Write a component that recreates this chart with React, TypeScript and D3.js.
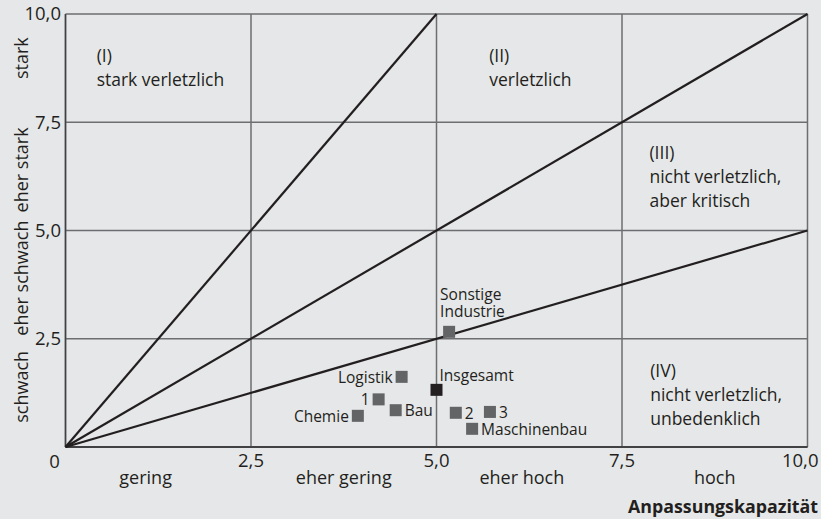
import React from "react";
import * as d3 from "d3";

// ---- data ----
const pointNames = ["Sonstige Industrie", "Logistik", "1", "Bau", "Chemie", "2", "3", "Maschinenbau", "Insgesamt"];
const pointX = [5.17, 4.53, 4.22, 4.45, 3.94, 5.26, 5.72, 5.48, 5.0];
const pointY = [2.66, 1.62, 1.1, 0.85, 0.72, 0.79, 0.81, 0.42, 1.32];
const pointLabelSide = ["top", "left", "left", "right", "left", "right", "right", "right", "topright"];
const pointIsTotal = [false, false, false, false, false, false, false, false, true];

const tickValues = [0, 2.5, 5, 7.5, 10];
const tickLabels = ["0", "2,5", "5,0", "7,5", "10,0"];

const xCategories = ["gering", "eher gering", "eher hoch", "hoch"];
const xCategoryPos = [1.08, 3.75, 6.15, 8.75];
const yCategories = ["stark", "eher stark", "eher schwach", "schwach"];
const yCategoryPos = [8.98, 6.4, 3.9, 1.39];

// rays from origin dividing the zones (end points)
const rayEndX = [5, 10, 10];
const rayEndY = [10, 10, 5];

const zoneLines = [
  ["(I)", "stark verletzlich"],
  ["(II)", "verletzlich"],
  ["(III)", "nicht verletzlich,", "aber kritisch"],
  ["(IV)", "nicht verletzlich,", "unbedenklich"],
];
const zoneX = [0.42, 5.71, 7.87, 7.88];
const zoneY = [8.89, 8.89, 6.65, 1.62];

const xTitle = "Anpassungskapazität";

// ---- layout ----
const W = 821;
const H = 519;
const left = 65.5;
const right = 807.5;
const top = 14;
const bottom = 447;
const FONT = "'Open Sans', sans-serif";
const TEXT = "#231f20";
const GRID = "#6d6e71";

export default function App() {
  const x = d3.scaleLinear().domain([0, 10]).range([left, right]);
  const y = d3.scaleLinear().domain([0, 10]).range([bottom, top]);
  const line = d3.line<[number, number]>().x((d) => x(d[0])).y((d) => y(d[1]));
  const sq = 12;

  return (
    <svg
      width={W}
      height={H}
      style={{ position: "absolute", left: 0, top: 0, display: "block" }}
      fontFamily={FONT}
    >
      <rect x={0} y={0} width={W} height={H} fill="#e6e7e8" />

      {/* grid lines */}
      {tickValues.map((v, i) => (
        <line key={"gx" + i} x1={x(v)} x2={x(v)} y1={y(0)} y2={y(10)} stroke={GRID} strokeWidth={1.5} />
      ))}
      {tickValues.map((v, i) => (
        <line key={"gy" + i} x1={x(0)} x2={x(10)} y1={y(v)} y2={y(v)} stroke={GRID} strokeWidth={1.5} />
      ))}
      {/* axes */}
      <line x1={x(0)} x2={x(10)} y1={y(0)} y2={y(0)} stroke="#414042" strokeWidth={1.8} />
      <line x1={x(0)} x2={x(0)} y1={y(0)} y2={y(10)} stroke="#414042" strokeWidth={1.5} />

      {/* rays */}
      {rayEndX.map((ex, i) => (
        <path
          key={"ray" + i}
          d={line([[0, 0], [ex, rayEndY[i]]]) || ""}
          stroke={TEXT}
          strokeWidth={2.2}
          fill="none"
        />
      ))}

      {/* x tick labels */}
      {tickValues.map((v, i) => {
        if (i === 0) {
          return (
            <text key={"xt" + i} x={x(v) - 11} y={468} fontSize={18.5} fill={TEXT} textAnchor="middle">
              {tickLabels[i]}
            </text>
          );
        }
        const last = i === tickValues.length - 1;
        return (
          <text
            key={"xt" + i}
            x={last ? x(v) + 11 : x(v)}
            y={467}
            fontSize={18.5}
            fill={TEXT}
            textAnchor={last ? "end" : "middle"}
          >
            {tickLabels[i]}
          </text>
        );
      })}
      {/* y tick labels */}
      {tickValues.map((v, i) =>
        i === 0 ? null : (
          <text
            key={"yt" + i}
            x={61}
            y={y(v)}
            dy="0.35em"
            fontSize={18.5}
            fill={TEXT}
            textAnchor="end"
          >
            {tickLabels[i]}
          </text>
        )
      )}

      {/* x categories */}
      {xCategories.map((c, i) => (
        <text key={"xc" + i} x={x(xCategoryPos[i])} y={484} fontSize={18} fill={TEXT} textAnchor="middle">
          {c}
        </text>
      ))}
      {/* y categories */}
      {yCategories.map((c, i) => (
        <text
          key={"yc" + i}
          transform={`translate(28,${y(yCategoryPos[i])}) rotate(-90)`}
          fontSize={18}
          fill={TEXT}
          textAnchor="middle"
        >
          {c}
        </text>
      ))}

      {/* x title */}
      <text x={818} y={513} fontSize={17.8} fontWeight="bold" fill={TEXT} textAnchor="end">
        {xTitle}
      </text>

      {/* zone labels */}
      {zoneLines.map((lines, i) => (
        <text key={"z" + i} x={x(zoneX[i])} y={y(zoneY[i])} fontSize={17.5} fill={TEXT}>
          {lines.map((l, j) => (
            <tspan key={j} x={x(zoneX[i])} dy={j === 0 ? 0 : 24}>
              {l}
            </tspan>
          ))}
        </text>
      ))}

      {/* points */}
      {pointNames.map((n, i) => {
        const cx = x(pointX[i]);
        const cy = y(pointY[i]);
        const side = pointLabelSide[i];
        let label: React.ReactNode = null;
        if (side === "top") {
          const words = n.split(" ");
          label = (
            <text x={cx - 9} y={cy - 32} fontSize={15.5} fill={TEXT}>
              {words.map((w, j) => (
                <tspan key={j} x={cx - 9} dy={j === 0 ? 0 : 17}>
                  {w}
                </tspan>
              ))}
            </text>
          );
        } else if (side === "left") {
          label = (
            <text x={cx - 9} y={cy + 6} fontSize={15.5} fill={TEXT} textAnchor="end">
              {n}
            </text>
          );
        } else if (side === "right") {
          label = (
            <text x={cx + 9} y={cy + 6} fontSize={15.5} fill={TEXT}>
              {n}
            </text>
          );
        } else {
          label = (
            <text x={cx + 3} y={cy - 9} fontSize={15.5} fill={TEXT}>
              {n}
            </text>
          );
        }
        return (
          <g key={"p" + i}>
            <rect
              x={cx - sq / 2}
              y={cy - sq / 2}
              width={sq}
              height={sq}
              fill={pointIsTotal[i] ? "#231f20" : "#636466"}
            />
            {label}
          </g>
        );
      })}
    </svg>
  );
}
